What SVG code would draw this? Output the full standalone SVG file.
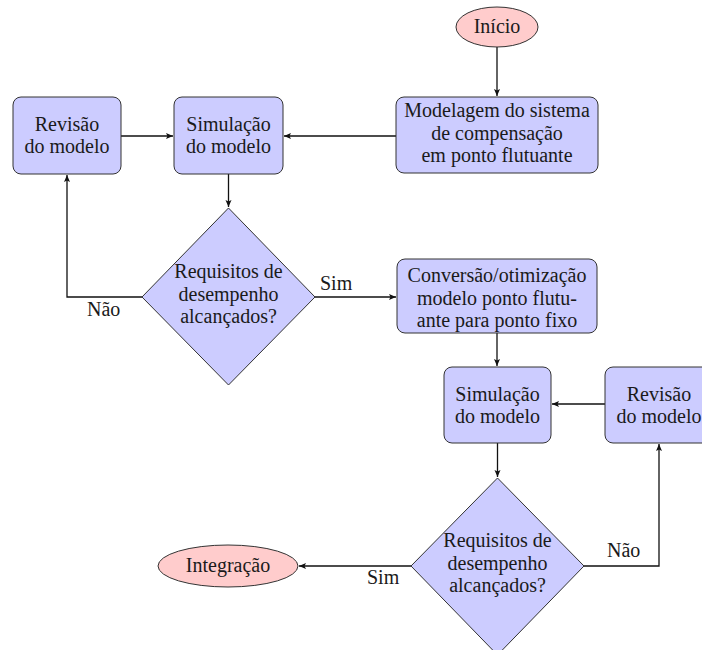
<svg xmlns="http://www.w3.org/2000/svg" width="702" height="650" viewBox="0 0 702 650">
<style>
.box{fill:#ccccff;stroke:#333;stroke-width:1}
.term{fill:#ffcccc;stroke:#333;stroke-width:1}
.t{text-anchor:middle}
.c{fill:none;stroke:#111;stroke-width:1.3}
</style>
<defs>
<marker id="ah" markerWidth="8" markerHeight="8" refX="7" refY="4" orient="auto" markerUnits="userSpaceOnUse">
<path d="M0,1 L7,4 L0,7 L1.5,4 Z" fill="#111"/>
</marker>
</defs>
<rect width="702" height="650" fill="#fff"/>
<g id="connectors">
<path class="c" d="M497,47 L497,96" marker-end="url(#ah)"/>
<path class="c" d="M396,136 L284,136" marker-end="url(#ah)"/>
<path class="c" d="M121,136 L173,136" marker-end="url(#ah)"/>
<path class="c" d="M228.5,174 L228.5,207" marker-end="url(#ah)"/>
<path class="c" d="M142,297 L67,297 L67,175" marker-end="url(#ah)"/>
<path class="c" d="M315,297 L396,297" marker-end="url(#ah)"/>
<path class="c" d="M497,333 L497,366" marker-end="url(#ah)"/>
<path class="c" d="M605,404 L552,404" marker-end="url(#ah)"/>
<path class="c" d="M497.5,443 L497.5,477" marker-end="url(#ah)"/>
<path class="c" d="M584,566 L659,566 L659,444" marker-end="url(#ah)"/>
<path class="c" d="M411,566 L299,566" marker-end="url(#ah)"/>
<text x="320" y="290" font-family="Liberation Serif" font-size="20" fill="#1a1a1a">Sim</text>
<text x="87" y="316" font-family="Liberation Serif" font-size="20" fill="#1a1a1a">Não</text>
<text x="607" y="557" font-family="Liberation Serif" font-size="20" fill="#1a1a1a">Não</text>
<text x="367" y="584" font-family="Liberation Serif" font-size="20" fill="#1a1a1a">Sim</text>
</g>
<g id="inicio" font-family="Liberation Serif" font-size="20" fill="#1a1a1a">
<ellipse class="term" cx="497" cy="27" rx="41" ry="20"/>
<text class="t" x="497" y="33" font-family="Liberation Serif">Início</text>
</g>
<g id="modelagem" font-family="Liberation Serif" font-size="20" fill="#1a1a1a">
<rect class="box" x="396" y="97" width="202" height="76" rx="8"/>
<text class="t" x="497" y="117" font-family="Liberation Serif">Modelagem do sistema</text>
<text class="t" x="497" y="139.5" font-family="Liberation Serif">de compensação</text>
<text class="t" x="497" y="162" font-family="Liberation Serif">em ponto flutuante</text>
</g>
<g id="revisao1" font-family="Liberation Serif" font-size="20" fill="#1a1a1a">
<rect class="box" x="13" y="97" width="108" height="77" rx="8"/>
<text class="t" x="67" y="131" font-family="Liberation Serif">Revisão</text>
<text class="t" x="67" y="153" font-family="Liberation Serif">do modelo</text>
</g>
<g id="simulacao1" font-family="Liberation Serif" font-size="20" fill="#1a1a1a">
<rect class="box" x="174" y="97" width="109" height="77" rx="8"/>
<text class="t" x="228.5" y="131" font-family="Liberation Serif">Simulação</text>
<text class="t" x="228.5" y="153" font-family="Liberation Serif">do modelo</text>
</g>
<g id="decisao1" font-family="Liberation Serif" font-size="20" fill="#1a1a1a">
<polygon class="box" points="228.5,208 315,297 228.5,385 142,297"/>
<text class="t" x="228.5" y="278" font-family="Liberation Serif">Requisitos de</text>
<text class="t" x="228.5" y="300.5" font-family="Liberation Serif">desempenho</text>
<text class="t" x="228.5" y="323" font-family="Liberation Serif">alcançados?</text>
</g>
<g id="conversao" font-family="Liberation Serif" font-size="20" fill="#1a1a1a">
<rect class="box" x="397" y="259" width="200" height="74" rx="8"/>
<text class="t" x="497" y="282" font-family="Liberation Serif">Conversão/otimização</text>
<text class="t" x="497" y="304.5" font-family="Liberation Serif">modelo ponto flutu-</text>
<text class="t" x="497" y="327" font-family="Liberation Serif">ante para ponto fixo</text>
</g>
<g id="simulacao2" font-family="Liberation Serif" font-size="20" fill="#1a1a1a">
<rect class="box" x="444" y="367" width="107" height="76" rx="8"/>
<text class="t" x="497.5" y="401" font-family="Liberation Serif">Simulação</text>
<text class="t" x="497.5" y="423" font-family="Liberation Serif">do modelo</text>
</g>
<g id="revisao2" font-family="Liberation Serif" font-size="20" fill="#1a1a1a">
<rect class="box" x="605" y="367" width="108" height="76" rx="8"/>
<text class="t" x="659" y="401" font-family="Liberation Serif">Revisão</text>
<text class="t" x="659" y="423" font-family="Liberation Serif">do modelo</text>
</g>
<g id="decisao2" font-family="Liberation Serif" font-size="20" fill="#1a1a1a">
<polygon class="box" points="497.5,478 584,566 497.5,655 411,566"/>
<text class="t" x="497.5" y="547" font-family="Liberation Serif">Requisitos de</text>
<text class="t" x="497.5" y="569.5" font-family="Liberation Serif">desempenho</text>
<text class="t" x="497.5" y="592" font-family="Liberation Serif">alcançados?</text>
</g>
<g id="integracao" font-family="Liberation Serif" font-size="20" fill="#1a1a1a">
<ellipse class="term" cx="228" cy="566" rx="70" ry="21"/>
<text class="t" x="228" y="572" font-family="Liberation Serif">Integração</text>
</g>
</svg>
